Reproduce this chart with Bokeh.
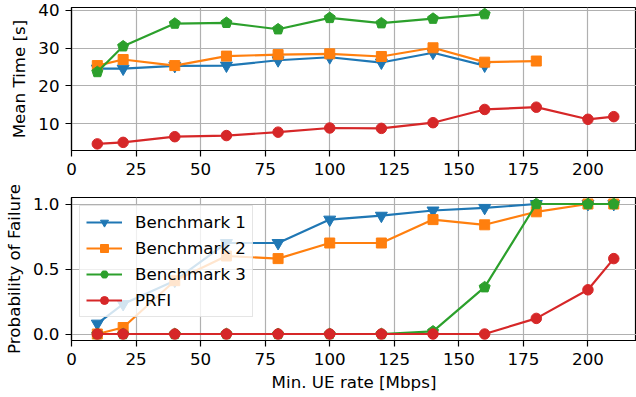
import math
from bokeh.plotting import figure
from bokeh.layouts import column
from bokeh.models import Range1d, FixedTicker, Legend, LegendItem, PrintfTickFormatter
from bokeh.embed import file_html
from bokeh.resources import INLINE

rates = [10, 20, 40, 60, 80, 100, 120, 140, 160, 180, 200, 210]
x_ticks = [0, 25, 50, 75, 100, 125, 150, 175, 200]

time_b1 = [24.6, 24.6, 25.3, 25.4, 26.8, 27.6, 26.2, 28.8, 25.4]
time_b2 = [25.4, 27.0, 25.4, 27.9, 28.3, 28.5, 27.8, 30.1, 26.3, 26.6]
time_b3 = [23.7, 30.5, 36.5, 36.7, 35.0, 38.0, 36.6, 37.8, 39.0]
time_prfi = [4.7, 5.1, 6.6, 6.9, 7.8, 8.9, 8.8, 10.3, 13.8, 14.4, 11.2, 11.9]

fail_b1 = [0.08, 0.23, 0.41, 0.70, 0.70, 0.88, 0.91, 0.95, 0.97, 1.0, 1.0, 1.0]
fail_b2 = [0.0, 0.05, 0.41, 0.60, 0.58, 0.70, 0.70, 0.88, 0.84, 0.94, 1.0, 1.0]
fail_b3 = [0.0, 0.0, 0.0, 0.0, 0.0, 0.0, 0.0, 0.02, 0.36, 1.0, 1.0, 1.0]
fail_prfi = [0.0, 0.0, 0.0, 0.0, 0.0, 0.0, 0.0, 0.0, 0.0, 0.12, 0.34, 0.58]

names = ["Benchmark 1", "Benchmark 2", "Benchmark 3", "PRFI"]
colors = ["#1f77b4", "#ff7f0e", "#2ca02c", "#d62728"]
markers = ["inverted_triangle", "square", "pentagon", "circle"]
sizes = [12, 10, 11, 10.5]

FONT = "DejaVu Sans"
FS = "16.7px"
W = 636
BORDER_L = 69
X_END = 218.8
FRAME_H = 143
PENT_R = 5.8  # circumradius of the pentagon marker, px

Y1 = (2.95, 40.75)
Y2 = (-0.05, 1.05)


def style(p, yticks, ylabel, xlabel=None, fmt=None):
    p.outline_line_color = "black"
    p.outline_line_width = 1.2
    for ax in (p.xaxis[0], p.yaxis[0]):
        ax.major_label_text_font = FONT
        ax.major_label_text_font_size = FS
        ax.major_label_text_color = "black"
        ax.axis_label_text_font = FONT
        ax.axis_label_text_font_size = FS
        ax.axis_label_text_font_style = "normal"
        ax.axis_label_text_color = "black"
        ax.major_tick_out = 6
        ax.major_tick_in = 0
        ax.minor_tick_out = 0
        ax.minor_tick_in = 0
        ax.major_tick_line_color = "black"
        ax.major_tick_line_width = 1.2
        ax.axis_line_color = "black"
        ax.axis_line_width = 1.2
        ax.major_label_standoff = 6
    p.xaxis.ticker = FixedTicker(ticks=x_ticks)
    p.yaxis.ticker = FixedTicker(ticks=yticks)
    if fmt:
        p.yaxis.formatter = PrintfTickFormatter(format=fmt)
    p.yaxis.axis_label = ylabel
    p.yaxis.axis_label_standoff = 6
    if xlabel:
        p.xaxis.axis_label = xlabel
        p.xaxis.axis_label_standoff = 4
    for g in (p.xgrid, p.ygrid):
        g.grid_line_color = "#b0b0b0"
        g.grid_line_width = 1.2


def pentagons(xs, ys, yr):
    sx = (W - BORDER_L) / X_END
    sy = FRAME_H / (yr[1] - yr[0])
    pxs, pys = [], []
    for x, y in zip(xs, ys):
        vx, vy = [], []
        for k in range(5):
            a = math.radians(90 + 72 * k)
            vx.append(x + PENT_R * math.cos(a) / sx)
            vy.append(y + PENT_R * math.sin(a) / sy)
        pxs.append(vx)
        pys.append(vy)
    return pxs, pys


def draw(p, xs_list, ys_list, yr):
    items = []
    for i, (xs, ys) in enumerate(zip(xs_list, ys_list)):
        c = colors[i]
        lr = p.line(xs, ys, line_color=c, line_width=2.2)
        if markers[i] == "pentagon":
            pxs, pys = pentagons(xs, ys, yr)
            p.patches(pxs, pys, fill_color=c, line_color=c, line_width=1)
            mr = p.scatter([float("nan")], [float("nan")], marker="hex", size=sizes[i],
                           fill_color=c, line_color=c)
        else:
            mr = p.scatter(xs, ys, marker=markers[i], size=sizes[i], fill_color=c,
                           line_color=c, line_width=1)
        items.append(LegendItem(label=names[i], renderers=[lr, mr]))
    return items


p1 = figure(width=W, height=182, output_backend="svg", toolbar_location=None,
            x_range=Range1d(0, X_END), y_range=Range1d(*Y1),
            min_border_left=BORDER_L, min_border_right=0, min_border_top=7, min_border_bottom=32)
style(p1, [10, 20, 30, 40], "Mean Time [s]")
draw(p1, [rates[:9], rates[:10], rates[:9], rates],
     [time_b1, time_b2, time_b3, time_prfi], Y1)

p2 = figure(width=W, height=214, output_backend="svg", toolbar_location=None,
            x_range=Range1d(0, X_END), y_range=Range1d(*Y2),
            min_border_left=BORDER_L, min_border_right=0, min_border_top=15, min_border_bottom=56)
style(p2, [0.0, 0.5, 1.0], "Probability of Failure", "Min. UE rate [Mbps]", "%.1f")
items = draw(p2, [rates] * 4, [fail_b1, fail_b2, fail_b3, fail_prfi], Y2)

legend = Legend(items=items, location="top_left")
legend.label_text_font = FONT
legend.label_text_font_size = FS
legend.label_text_color = "black"
legend.glyph_width = 36
legend.glyph_height = 20
legend.label_height = 20
legend.label_standoff = 13
legend.spacing = 6
legend.padding = 6
legend.margin = 8
legend.background_fill_color = "white"
legend.background_fill_alpha = 0.8
legend.border_line_color = "#cccccc"
legend.border_line_width = 1
p2.add_layout(legend)

layout = column(p1, p2, spacing=0)
open("out.html", "w").write(file_html(layout, INLINE))
